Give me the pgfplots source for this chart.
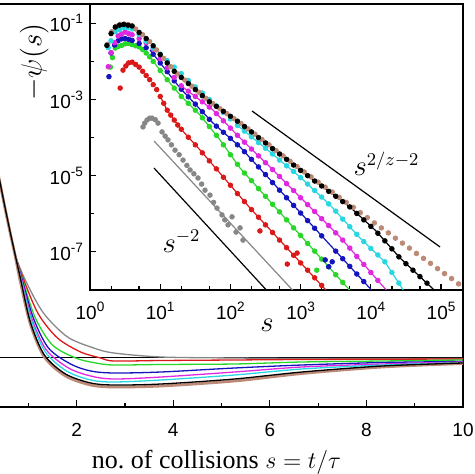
\documentclass[border=0pt]{standalone}
\usepackage[no-math]{fontspec}
\setmainfont{Liberation Serif}
\setsansfont{Liberation Sans}
\usepackage{pgfplots}
\pgfplotsset{compat=1.18}
\definecolor{cgray}{RGB}{135,135,135}
\definecolor{cred}{RGB}{220,25,25}
\definecolor{cgreen}{RGB}{40,215,40}
\definecolor{cblue}{RGB}{20,20,190}
\definecolor{cmag}{RGB}{225,40,225}
\definecolor{ccyan}{RGB}{40,215,225}
\definecolor{cbrown}{RGB}{188,138,118}
\newcommand\tickf{\fontsize{9.5}{11}\selectfont\sffamily}
\newcommand\dec[1]{10\raisebox{0.42em}{\fontsize{6.8}{7}\selectfont #1}}
\begin{document}
\begin{tikzpicture}
\useasboundingbox (0pt,0pt) rectangle (237pt,237pt);
\clip (0pt,0pt) rectangle (237pt,237pt);
% ---------------- main axis ----------------
\begin{axis}[at={(-10pt,33.5pt)}, anchor=south west, scale only axis,
  width=241.5pt, height=201.5pt,
  xmin=0, xmax=10, ymin=-0.49, ymax=3.54,
  xtick={2,4,6,8,10}, minor xtick={1,3,5,7,9}, ytick=\empty,
  xtick pos=left, tick align=inside,
  major tick length=3.5pt, minor tick length=2pt,
  every tick/.style={black, line width=0.6pt},
  axis line style={line width=1pt},
  xticklabels={2,4,6,8,10},
  xticklabel style={font=\tickf, yshift=-4.5pt},
  xlabel={no.\ of collisions $s=t/\tau$},
  xlabel style={font=\fontsize{13}{15}\selectfont, at={(axis description cs:0.4897,-0.1514)}, anchor=base},
  every axis plot/.append style={line width=0.65pt, smooth}]
\addplot[black, line width=0.5pt, sharp plot] coordinates {(0,0) (10,0)};
\addplot[cgray] coordinates {(0.3125,2.0) (0.417,1.75) (0.521,1.50) (0.625,1.26) (0.729,1.03) (0.9375,0.78) (1.313,0.45) (1.813,0.21) (2.354,0.10) (2.771,0.05) (3.75,0.01) (5.271,0.0) (6.667,-0.005) (10,-0.005)};
\addplot[cred] coordinates {(0.3125,2.0) (0.417,1.75) (0.521,1.50) (0.625,1.26) (0.729,1.03) (0.906,0.78) (1.208,0.44) (1.604,0.20) (2.083,0.06) (2.5,0.0) (2.771,-0.03) (3.75,-0.025) (5.271,-0.02) (6.667,-0.015) (10,-0.01)};
\addplot[cgreen] coordinates {(0.3125,2.0) (0.417,1.75) (0.521,1.50) (0.625,1.26) (0.729,1.03) (0.885,0.78) (1.146,0.40) (1.5,0.13) (1.979,0.0) (2.396,-0.05) (2.771,-0.07) (3.75,-0.065) (5.271,-0.06) (6.667,-0.04) (8.333,-0.03) (10,-0.02)};
\addplot[cblue] coordinates {(0.3125,2.0) (0.417,1.75) (0.521,1.50) (0.625,1.26) (0.729,1.03) (0.875,0.78) (1.104,0.40) (1.417,0.10) (1.875,-0.06) (2.292,-0.13) (2.771,-0.15) (3.75,-0.14) (5.271,-0.10) (6.667,-0.07) (8.333,-0.045) (10,-0.035)};
\addplot[cmag] coordinates {(0.3125,2.0) (0.417,1.75) (0.521,1.50) (0.625,1.26) (0.729,1.03) (0.865,0.78) (1.083,0.38) (1.375,0.08) (1.833,-0.10) (2.292,-0.18) (2.771,-0.21) (3.75,-0.19) (5.271,-0.14) (6.667,-0.09) (8.333,-0.06) (10,-0.04)};
\addplot[ccyan] coordinates {(0.3125,2.0) (0.417,1.75) (0.521,1.50) (0.625,1.26) (0.729,1.03) (0.854,0.78) (1.0625,0.38) (1.354,0.06) (1.792,-0.13) (2.292,-0.22) (2.771,-0.24) (3.75,-0.22) (5.271,-0.17) (6.667,-0.11) (8.333,-0.07) (10,-0.045)};
\addplot[cbrown, line width=1.4pt] coordinates {(0.3125,1.99) (0.417,1.74) (0.521,1.49) (0.625,1.25) (0.729,1.02) (0.833,0.77) (1.042,0.34) (1.333,0.01) (1.771,-0.18) (2.292,-0.27) (2.771,-0.29) (3.75,-0.28) (5.271,-0.23) (6.667,-0.155) (8.333,-0.09) (10,-0.055)};
\addplot[black] coordinates {(0.3125,2.0) (0.417,1.75) (0.521,1.50) (0.625,1.26) (0.729,1.03) (0.844,0.78) (1.042,0.36) (1.333,0.03) (1.771,-0.16) (2.292,-0.25) (2.771,-0.27) (3.75,-0.26) (5.271,-0.21) (6.667,-0.14) (8.333,-0.08) (10,-0.05)};
\end{axis}
% ---------------- inset (log-log, log10 units) ----------------
\begin{axis}[at={(45pt,92pt)}, anchor=south west, scale only axis,
  width=186.5pt, height=143pt,
  xmin=0, xmax=5.313, ymin=-8, ymax=-0.493,
  axis background/.style={fill=white},
  xtick={0,1,2,3,4,5},
  xticklabels={\dec{0},\dec{1},\dec{2},\dec{3},\dec{4},\dec{5}},
  minor xtick={0.301,0.699,1.301,1.699,2.301,2.699,3.301,3.699,4.301,4.699,5.301},
  ytick={-7,-5,-3,-1},
  yticklabels={\dec{-7},\dec{-5},\dec{-3},\dec{-1}},
  minor ytick={-6,-4,-2},
  tick pos=left, tick align=inside,
  major tick length=3pt, minor tick length=2pt,
  every tick/.style={black, line width=0.6pt},
  axis line style={line width=1pt},
  ticklabel style={font=\tickf},
  xticklabel style={yshift=-2.5pt},
  xlabel={$s$},
  xlabel style={font=\fontsize{13.5}{15}\selectfont, at={(axis description cs:0.4745,-0.1224)}, anchor=center},
  ylabel={$-\psi(s)$},
  ylabel style={font=\fontsize{13.5}{15}\selectfont, at={(axis description cs:-0.150,0.797)}, anchor=center},
  every axis plot/.append style={mark=*, mark size=1.15pt, only marks, mark options={draw=none}}]
\addplot[cgray, mark options={fill=cgray}] coordinates {(0.755,-3.72) (0.78,-3.62) (0.812,-3.54) (0.85,-3.49) (0.883,-3.49) (0.93,-3.53) (0.969,-3.62) (1.026,-3.85) (1.07,-3.96) (1.111,-4.06) (1.16,-4.19) (1.211,-4.33) (1.27,-4.45) (1.325,-4.59) (1.38,-4.73) (1.425,-4.85) (1.48,-4.95) (1.538,-5.06) (1.59,-5.22) (1.638,-5.38) (1.709,-5.51) (1.76,-5.70) (1.809,-5.85) (1.88,-6.03) (1.92,-6.16) (1.966,-6.29) (2.023,-6.08) (2.08,-6.48) (2.137,-6.37) (2.179,-6.69)};
\addplot[cred, mark options={fill=cred}] coordinates {(0.43,-2.70) (0.47,-2.23) (0.51,-2.12) (0.55,-2.04) (0.60,-2.02) (0.65,-2.08) (0.70,-2.15) (0.75,-2.26) (0.80,-2.37) (0.85,-2.48) (0.90,-2.61) (0.95,-2.74) (1.00,-2.92) (1.05,-3.10) (1.10,-3.28) (1.15,-3.41) (1.20,-3.54) (1.25,-3.67) (1.30,-3.78) (1.40,-3.99) (1.50,-4.19) (1.60,-4.40) (1.70,-4.61) (1.80,-4.82) (1.90,-5.04) (2.00,-5.25) (2.10,-5.47) (2.20,-5.68) (2.30,-5.89) (2.40,-6.09) (2.42,-6.45) (2.50,-6.29) (2.60,-6.49) (2.70,-6.69) (2.80,-6.89) (2.81,-7.32) (2.90,-7.09) (2.95,-7.03) (3.00,-7.29) (3.10,-7.48) (3.20,-7.68) (3.30,-7.88)};
\addplot[cgreen, mark options={fill=cgreen}] coordinates {(0.29,-2.15) (0.32,-1.90) (0.36,-1.65) (0.40,-1.61) (0.45,-1.58) (0.50,-1.54) (0.55,-1.53) (0.60,-1.56) (0.65,-1.59) (0.70,-1.62) (0.75,-1.69) (0.80,-1.78) (0.85,-1.88) (0.90,-2.00) (1.00,-2.24) (1.10,-2.48) (1.20,-2.70) (1.30,-2.92) (1.40,-3.10) (1.50,-3.28) (1.60,-3.48) (1.70,-3.71) (1.80,-3.94) (1.90,-4.19) (2.00,-4.45) (2.10,-4.70) (2.20,-4.93) (2.30,-5.13) (2.40,-5.34) (2.50,-5.54) (2.60,-5.75) (2.70,-5.95) (2.80,-6.16) (2.90,-6.37) (3.00,-6.57) (3.10,-6.78) (3.20,-6.98) (3.23,-7.48) (3.30,-7.19) (3.40,-7.39) (3.50,-7.60) (3.60,-7.80)};
\addplot[cblue, mark options={fill=cblue}] coordinates {(0.27,-2.40) (0.30,-1.78) (0.35,-1.57) (0.40,-1.46) (0.45,-1.41) (0.50,-1.40) (0.55,-1.42) (0.60,-1.45) (0.70,-1.53) (0.80,-1.64) (0.90,-1.81) (1.00,-2.04) (1.10,-2.27) (1.20,-2.51) (1.30,-2.73) (1.40,-2.93) (1.50,-3.12) (1.60,-3.32) (1.70,-3.52) (1.80,-3.70) (1.90,-3.86) (2.00,-4.02) (2.10,-4.19) (2.20,-4.37) (2.30,-4.57) (2.40,-4.77) (2.50,-4.97) (2.60,-5.18) (2.70,-5.38) (2.80,-5.58) (2.90,-5.78) (3.00,-5.98) (3.10,-6.18) (3.20,-6.38) (3.30,-6.58) (3.35,-7.21) (3.40,-7.39) (3.45,-7.26) (3.50,-6.98) (3.60,-7.18) (3.70,-7.38) (3.80,-7.58) (3.90,-7.78)};
\addplot[cmag, mark options={fill=cmag}] coordinates {(0.26,-2.14) (0.30,-1.77) (0.35,-1.51) (0.40,-1.33) (0.45,-1.28) (0.50,-1.23) (0.55,-1.27) (0.60,-1.30) (0.70,-1.40) (0.80,-1.51) (0.90,-1.68) (1.00,-1.93) (1.10,-2.17) (1.20,-2.42) (1.30,-2.64) (1.40,-2.78) (1.50,-2.92) (1.60,-3.06) (1.70,-3.20) (1.80,-3.37) (1.90,-3.56) (2.00,-3.75) (2.10,-3.94) (2.20,-4.12) (2.30,-4.30) (2.40,-4.48) (2.50,-4.66) (2.60,-4.84) (2.70,-5.02) (2.80,-5.21) (2.90,-5.39) (3.00,-5.58) (3.10,-5.76) (3.20,-5.94) (3.30,-6.13) (3.40,-6.31) (3.50,-6.50) (3.60,-6.69) (3.70,-6.90) (3.80,-7.12) (3.90,-7.33) (4.00,-7.54) (4.10,-7.75)};
\addplot[ccyan, mark options={fill=ccyan}] coordinates {(0.26,-1.64) (0.30,-1.46) (0.36,-1.22) (0.42,-1.17) (0.48,-1.11) (0.54,-1.12) (0.60,-1.15) (0.70,-1.29) (0.80,-1.47) (0.90,-1.65) (1.00,-1.81) (1.10,-1.98) (1.20,-2.15) (1.30,-2.32) (1.40,-2.50) (1.50,-2.67) (1.60,-2.83) (1.70,-3.00) (1.80,-3.17) (1.90,-3.34) (2.00,-3.51) (2.10,-3.68) (2.20,-3.83) (2.30,-3.98) (2.40,-4.13) (2.50,-4.28) (2.60,-4.43) (2.70,-4.59) (2.80,-4.74) (2.90,-4.89) (3.00,-5.05) (3.10,-5.22) (3.20,-5.39) (3.30,-5.56) (3.40,-5.74) (3.50,-5.93) (3.60,-6.14) (3.70,-6.34) (3.80,-6.54) (3.90,-6.73) (4.00,-6.91) (4.10,-7.08) (4.20,-7.26) (4.30,-7.54) (4.40,-7.82)};
\addplot[cbrown, mark options={fill=cbrown}] coordinates {(0.25,-1.55) (0.31,-1.22) (0.37,-1.08) (0.43,-1.03) (0.49,-1.02) (0.55,-1.04) (0.65,-1.15) (0.75,-1.30) (0.85,-1.48) (0.95,-1.70) (1.05,-1.92) (1.15,-2.14) (1.25,-2.33) (1.35,-2.49) (1.45,-2.65) (1.55,-2.81) (1.65,-2.97) (1.75,-3.11) (1.85,-3.24) (1.95,-3.37) (2.05,-3.50) (2.15,-3.63) (2.25,-3.77) (2.35,-3.91) (2.45,-4.05) (2.55,-4.19) (2.65,-4.34) (2.75,-4.48) (2.85,-4.62) (2.95,-4.76) (3.05,-4.90) (3.15,-5.03) (3.25,-5.17) (3.35,-5.30) (3.45,-5.43) (3.55,-5.57) (3.65,-5.70) (3.75,-5.83) (3.85,-5.97) (3.95,-6.10) (4.05,-6.24) (4.15,-6.37) (4.25,-6.50) (4.35,-6.64) (4.45,-6.77) (4.55,-6.90) (4.65,-7.04) (4.75,-7.17) (4.85,-7.30) (4.95,-7.44) (5.05,-7.57) (5.15,-7.70) (5.25,-7.84)};
\addplot[black, mark options={fill=black}] coordinates {(0.24,-1.58) (0.30,-1.27) (0.36,-1.10) (0.42,-1.05) (0.48,-1.03) (0.54,-1.05) (0.60,-1.07) (0.70,-1.24) (0.80,-1.40) (0.90,-1.59) (1.00,-1.82) (1.10,-2.04) (1.20,-2.26) (1.30,-2.42) (1.40,-2.58) (1.50,-2.74) (1.60,-2.90) (1.70,-3.06) (1.80,-3.18) (1.90,-3.31) (2.00,-3.44) (2.10,-3.57) (2.20,-3.71) (2.30,-3.85) (2.40,-4.00) (2.50,-4.14) (2.60,-4.29) (2.70,-4.43) (2.80,-4.57) (2.90,-4.72) (3.00,-4.86) (3.10,-5.00) (3.20,-5.14) (3.30,-5.27) (3.40,-5.41) (3.50,-5.54) (3.60,-5.68) (3.70,-5.82) (3.80,-5.99) (3.90,-6.16) (4.00,-6.33) (4.10,-6.51) (4.20,-6.71) (4.30,-6.92) (4.40,-7.13) (4.50,-7.31) (4.60,-7.48) (4.70,-7.65) (4.80,-7.82)};
% fitted lines
\addplot[cgray, no marks, sharp plot, line width=0.6pt] coordinates {(0.912,-4.089) (2.884,-8.0)};
\addplot[cred, no marks, sharp plot, line width=0.6pt] coordinates {(1.0,-2.92) (1.097,-3.276) (1.282,-3.748) (1.567,-4.325) (2.279,-5.848) (3.319,-7.921) (3.36,-8.0)};
\addplot[cgreen, no marks, sharp plot, line width=0.6pt] coordinates {(0.855,-1.885) (1.068,-2.409) (1.282,-2.882) (1.567,-3.407) (1.852,-4.063) (2.137,-4.798) (3.632,-7.869) (3.70,-8.0)};
\addplot[cblue, no marks, sharp plot, line width=0.6pt] coordinates {(0.855,-1.701) (1.282,-2.698) (1.752,-3.617) (2.137,-4.246) (3.917,-7.816) (4.01,-8.0)};
\addplot[cmag, no marks, sharp plot, line width=0.6pt] coordinates {(1.282,-2.619) (1.752,-3.276) (2.094,-3.932) (2.564,-4.772) (2.991,-5.559) (3.561,-6.609) (4.131,-7.816) (4.22,-8.0)};
\addplot[ccyan, no marks, sharp plot, line width=0.6pt] coordinates {(2.094,-3.669) (2.564,-4.378) (2.991,-5.034) (3.419,-5.769) (3.846,-6.635) (4.202,-7.265) (4.416,-7.869) (4.46,-8.0)};
\addplot[black, no marks, sharp plot, line width=0.6pt] coordinates {(2.137,-3.617) (2.991,-4.850) (3.704,-5.822) (4.074,-6.451) (4.416,-7.160) (4.872,-7.948) (4.90,-8.0)};
% reference power laws
\addplot[black, no marks, sharp plot, line width=0.6pt] coordinates {(0.912,-4.80) (2.512,-8.0)};
\addplot[black, no marks, sharp plot, line width=0.6pt] coordinates {(2.308,-3.302) (4.986,-6.871)};
\node[font=\fontsize{13.5}{15}\selectfont] at (axis cs:4.224,-4.693) {$s^{2/z-2}$};
\node[font=\fontsize{13.5}{15}\selectfont] at (axis cs:1.303,-6.714) {$s^{-2}$};
\end{axis}
\end{tikzpicture}
\end{document}
